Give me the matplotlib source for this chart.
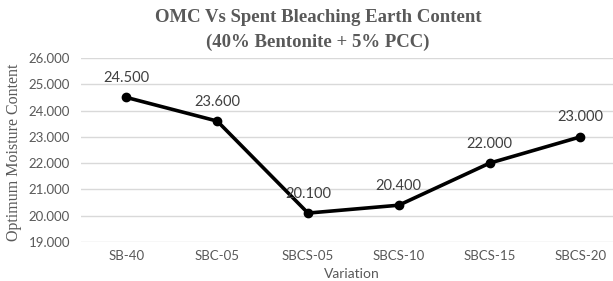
import matplotlib.pyplot as plt

variations = ["SB-40", "SBC-05", "SBCS-05", "SBCS-10", "SBCS-15", "SBCS-20"]
omc = [24.5, 23.6, 20.1, 20.4, 22.0, 23.0]
yticks = [19, 20, 21, 22, 23, 24, 25, 26]

fig = plt.figure(figsize=(6.13, 2.81), dpi=100)
ax = fig.add_axes([81 / 613, 39 / 281, 1 - 81 / 613, 184 / 281])

x = list(range(len(variations)))
ax.plot(x, omc, color="black", linewidth=2.6, marker="o", markersize=6, zorder=3)

for xi, v in zip(x, omc):
    ax.annotate(f"{v:.3f}", (xi, v), xytext=(0, 14), textcoords="offset points",
                ha="center", va="center", fontsize=10.5, color="#404040", family="Lato")

ax.set_xlim(-0.5, (613 - 81) / 90.8 - 0.5)
ax.set_ylim(19, 26)
ax.set_yticks(yticks)
ax.set_yticklabels([f"{t:.3f}" for t in yticks])
ax.set_xticks(x)
ax.set_xticklabels(variations)
ax.tick_params(axis="y", length=0, labelsize=9.5, labelcolor="#595959", pad=8)
ax.tick_params(axis="x", length=0, labelsize=9.5, labelcolor="#595959", pad=6)
for lbl in ax.get_xticklabels() + ax.get_yticklabels():
    lbl.set_family("Lato")
ax.grid(axis="y", color="#d9d9d9", linewidth=1)
ax.set_axisbelow(True)
for s in ax.spines.values():
    s.set_visible(False)

fig.text(318 / 613, 1 - 18 / 281, "OMC Vs Spent Bleaching Earth Content", ha="center", va="center",
         fontsize=13.5, fontweight="bold", family="Liberation Serif", color="#595959")
fig.text(318 / 613, 1 - 42 / 281, "(40% Bentonite + 5% PCC)", ha="center", va="center",
         fontsize=13.5, fontweight="bold", family="Liberation Serif", color="#595959")
fig.text(14 / 613, 1 - 152 / 281, "Optimum Moisture Content", rotation=90, ha="center", va="center",
         fontsize=11.5, family="Liberation Serif", color="#595959")
fig.text(352 / 613, 1 / 281, "Variation", ha="center", va="bottom",
         fontsize=10, family="Lato", color="#595959")

fig.savefig("out.png", dpi=100)
